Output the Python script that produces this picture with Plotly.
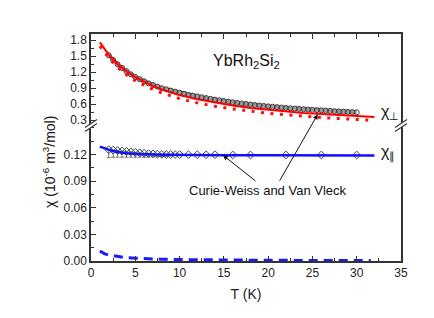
import plotly.graph_objects as go

# ---------------- data ----------------
# chi_perp experimental (dense gray open circles), upper panel
T_perp = [2.0, 2.5, 3.0, 3.5, 4.0, 4.5, 5.0, 5.5, 6.0, 6.5, 7.0, 7.5, 8.0, 8.5, 9.0, 9.5,
          10.0, 10.5, 11.0, 11.5, 12.0, 12.5, 13.0, 13.5, 14.0, 14.5, 15.0, 15.5, 16.0, 16.5,
          17.0, 17.5, 18.0, 18.5, 19.0, 19.5, 20.0, 20.5, 21.0, 21.5, 22.0, 22.5, 23.0, 23.5,
          24.0, 24.5, 25.0, 25.5, 26.0, 26.5, 27.0, 27.5, 28.0, 28.5, 29.0, 29.5, 30.0]
chi_perp = [1.52, 1.43, 1.35, 1.28, 1.22, 1.16, 1.11, 1.07, 1.03, 0.99, 0.96, 0.93, 0.90, 0.88, 0.855, 0.835,
            0.815, 0.795, 0.775, 0.76, 0.745, 0.73, 0.715, 0.70, 0.685, 0.672, 0.66, 0.648, 0.636, 0.625,
            0.614, 0.604, 0.594, 0.585, 0.576, 0.568, 0.56, 0.552, 0.545, 0.538, 0.531, 0.524, 0.518, 0.512,
            0.506, 0.50, 0.494, 0.489, 0.484, 0.479, 0.474, 0.469, 0.465, 0.46, 0.456, 0.452, 0.448]

# Curie-Weiss + Van Vleck fit for chi_perp (red solid)
T_fit_perp = [1, 2, 3, 4, 5, 6, 7, 8, 10, 12, 14, 16, 18, 20, 22, 24, 26, 28, 30, 32]
chi_fit_perp = [1.76, 1.53, 1.356, 1.219, 1.108, 1.017, 0.941, 0.876, 0.771, 0.691, 0.627, 0.575,
                0.53, 0.495, 0.464, 0.437, 0.414, 0.393, 0.375, 0.359]

# second red curve (dotted)
T_dot_perp = [1, 2, 3, 4, 5, 6, 7, 8, 10, 12, 14, 16, 18, 20, 22, 24, 26, 28, 30, 31.5]
chi_dot_perp = [1.69, 1.47, 1.29, 1.15, 1.04, 0.95, 0.875, 0.81, 0.705, 0.625, 0.56, 0.51,
                0.465, 0.43, 0.40, 0.37, 0.35, 0.33, 0.31, 0.30]

# chi_parallel experimental (open diamonds), lower panel
T_par = [2.0, 2.5, 3.0, 3.5, 4.0, 4.5, 5.0, 5.5, 6.0, 6.5, 7.0, 7.5, 8.0, 8.5, 9.0, 9.5, 10.0,
         11, 12, 13, 14, 16, 18, 22, 26, 30]
chi_par = [0.1255, 0.125, 0.1245, 0.124, 0.1235, 0.123, 0.1225, 0.122, 0.1215, 0.121, 0.1208,
           0.1205, 0.1203, 0.120, 0.120, 0.120, 0.120, 0.1198, 0.1198, 0.1198, 0.1198,
           0.1195, 0.1195, 0.1195, 0.1195, 0.1195]
err_par = [0.009, 0.008, 0.0075, 0.007, 0.0065, 0.006, 0.0055, 0.005, 0.0045, 0.004, 0.0035,
           0.003, 0.0025, 0.002, 0.0015, 0.001, 0.001, 0, 0, 0, 0, 0, 0, 0, 0, 0]

# fit for chi_parallel (blue solid)
T_fit_par = [1, 1.5, 2, 2.5, 3, 4, 5, 6, 8, 10, 15, 20, 25, 32]
chi_fit_par = [0.129, 0.127, 0.1255, 0.124, 0.1228, 0.1215, 0.1207, 0.1202, 0.1197, 0.1194,
               0.1192, 0.1191, 0.119, 0.119]

# Curie-Weiss part (blue dashed)
T_cw = [1, 1.5, 2, 3, 4, 5, 6, 8, 10, 12, 15, 20, 25, 31.6]
chi_cw = [0.0112, 0.0084, 0.0067, 0.0048, 0.0037, 0.0031, 0.0026, 0.002, 0.0016, 0.0013,
          0.0011, 0.0008, 0.0006, 0.0005]

x_ticks = [0, 5, 10, 15, 20, 25, 30, 35]
y_low_ticks = [0.00, 0.03, 0.06, 0.09, 0.12]
y_up_ticks = [0.3, 0.6, 0.9, 1.2, 1.5, 1.8]

# ---------------- figure ----------------
FONT = "Arial, Liberation Sans, sans-serif"
AX = "#333333"
BRK = 0.601

fig = go.Figure()

# lower panel
fig.add_trace(go.Scatter(x=T_cw, y=chi_cw, mode="lines", xaxis="x", yaxis="y",
                         line=dict(color="#1a1aff", width=3, dash="9px,6px")))
fig.add_trace(go.Scatter(x=T_par, y=chi_par, mode="markers", xaxis="x", yaxis="y",
                         marker=dict(symbol="diamond-open", size=6, color="#444444",
                                     line=dict(width=1, color="#444444")),
                         error_y=dict(type="data", symmetric=False, array=[0] * len(err_par),
                                      arrayminus=err_par, color="#555555", thickness=0.8, width=2)))
fig.add_trace(go.Scatter(x=T_fit_par, y=chi_fit_par, mode="lines", xaxis="x", yaxis="y",
                         line=dict(color="#1010ff", width=2.5)))

# upper panel
fig.add_trace(go.Scatter(x=T_perp, y=chi_perp, mode="lines+markers", xaxis="x2", yaxis="y2",
                         line=dict(color="#9a9a9a", width=4),
                         marker=dict(symbol="circle-open", size=5, color="#3a3a3a",
                                     line=dict(width=1, color="#3a3a3a"))))
fig.add_trace(go.Scatter(x=T_dot_perp, y=chi_dot_perp, mode="lines", xaxis="x2", yaxis="y2",
                         line=dict(color="#ff1010", width=3, dash="3px,6.5px")))
fig.add_trace(go.Scatter(x=T_fit_perp, y=chi_fit_perp, mode="lines", xaxis="x2", yaxis="y2",
                         line=dict(color="#ff0000", width=2)))

tickfont = dict(family=FONT, size=12, color="#222222")

fig.update_layout(
    width=434, height=318,
    margin=dict(l=83, r=41, t=26, b=65),
    paper_bgcolor="white", plot_bgcolor="white",
    showlegend=False,
    font=dict(family=FONT, color="#222222"),
    xaxis=dict(domain=[0, 1], anchor="y", range=[0, 35], tickvals=x_ticks,
               ticks="inside", ticklen=5, tickcolor=AX, showline=True, linecolor=AX, linewidth=1.5,
               showgrid=False, zeroline=False, tickfont=tickfont,
               minor=dict(dtick=2.5, ticks="inside", ticklen=3, tickcolor=AX),
               title=dict(text="T (K)", font=dict(family=FONT, size=14), standoff=10)),
    xaxis2=dict(domain=[0, 1], anchor="y2", matches="x", range=[0, 35], side="top",
                tickvals=x_ticks, showticklabels=False,
                ticks="inside", ticklen=5, tickcolor=AX, showline=True, linecolor=AX, linewidth=1.5,
                showgrid=False, zeroline=False,
                minor=dict(dtick=2.5, ticks="inside", ticklen=3, tickcolor=AX)),
    yaxis=dict(domain=[0, BRK], anchor="x", range=[0, 0.1538], tickvals=y_low_ticks,
               tickformat=".2f", ticks="inside", ticklen=5, tickcolor=AX,
               showline=True, linecolor=AX, linewidth=1.5, mirror=True,
               showgrid=False, zeroline=False, tickfont=tickfont,
               minor=dict(dtick=0.015, ticks="inside", ticklen=3, tickcolor=AX)),
    yaxis2=dict(domain=[BRK, 1], anchor="x2", range=[0.2175, 1.918], tickvals=y_up_ticks,
                tickformat=".1f", ticks="inside", ticklen=5, tickcolor=AX,
                showline=True, linecolor=AX, linewidth=1.5, mirror=True,
                showgrid=False, zeroline=False, tickfont=tickfont,
                minor=dict(tick0=0.15, dtick=0.15, ticks="inside", ticklen=3, tickcolor=AX)),
)

annotations = [
    dict(text="YbRh<sub>2</sub>Si<sub>2</sub>", xref="paper", yref="paper", x=0.386, y=0.881,
         xanchor="left", yanchor="middle", showarrow=False, font=dict(family=FONT, size=16, color="#111")),
    dict(text="χ<sub>⊥</sub>", xref="paper", yref="paper", x=0.93, y=0.655,
         xanchor="left", yanchor="middle", showarrow=False, font=dict(family=FONT, size=16, color="#111")),
    dict(text="χ<sub>∥</sub>", xref="paper", yref="paper", x=0.93, y=0.475,
         xanchor="left", yanchor="middle", showarrow=False, font=dict(family=FONT, size=16, color="#111")),
    dict(text="Curie-Weiss and Van Vleck", xref="paper", yref="paper", x=0.571, y=0.311,
         xanchor="center", yanchor="middle", showarrow=False, font=dict(family=FONT, size=13, color="#111")),
    dict(text="χ (10<sup>-6</sup> m<sup>3</sup>/mol)", xref="paper", yref="paper", x=-0.135, y=0.437,
         xanchor="center", yanchor="middle", textangle=-90, showarrow=False,
         font=dict(family=FONT, size=14, color="#111")),
    dict(text="", x=14.9, y=0.1193, xref="x", yref="y", showarrow=True, ax=34, ay=27,
         arrowhead=2, arrowsize=1, arrowwidth=1, arrowcolor="#111"),
    dict(text="", x=25.6, y=0.41, xref="x2", yref="y2", showarrow=True, ax=-39, ay=68,
         arrowhead=2, arrowsize=1, arrowwidth=1, arrowcolor="#111"),
]
fig.update_layout(annotations=annotations)

# axis-break marks
shapes = []
for xa in (0, 1):
    shapes.append(dict(type="line", xref="paper", yref="paper", xsizemode="pixel", ysizemode="pixel",
                       xanchor=xa, yanchor=BRK, x0=-6, y0=-5, x1=6, y1=3,
                       line=dict(color="white", width=4)))
    shapes.append(dict(type="line", xref="paper", yref="paper", xsizemode="pixel", ysizemode="pixel",
                       xanchor=xa, yanchor=BRK, x0=-6, y0=-7, x1=6, y1=1,
                       line=dict(color=AX, width=1.2)))
    shapes.append(dict(type="line", xref="paper", yref="paper", xsizemode="pixel", ysizemode="pixel",
                       xanchor=xa, yanchor=BRK, x0=-6, y0=-3, x1=6, y1=5,
                       line=dict(color=AX, width=1.2)))
fig.update_layout(shapes=shapes)

fig.write_html("out.html")
